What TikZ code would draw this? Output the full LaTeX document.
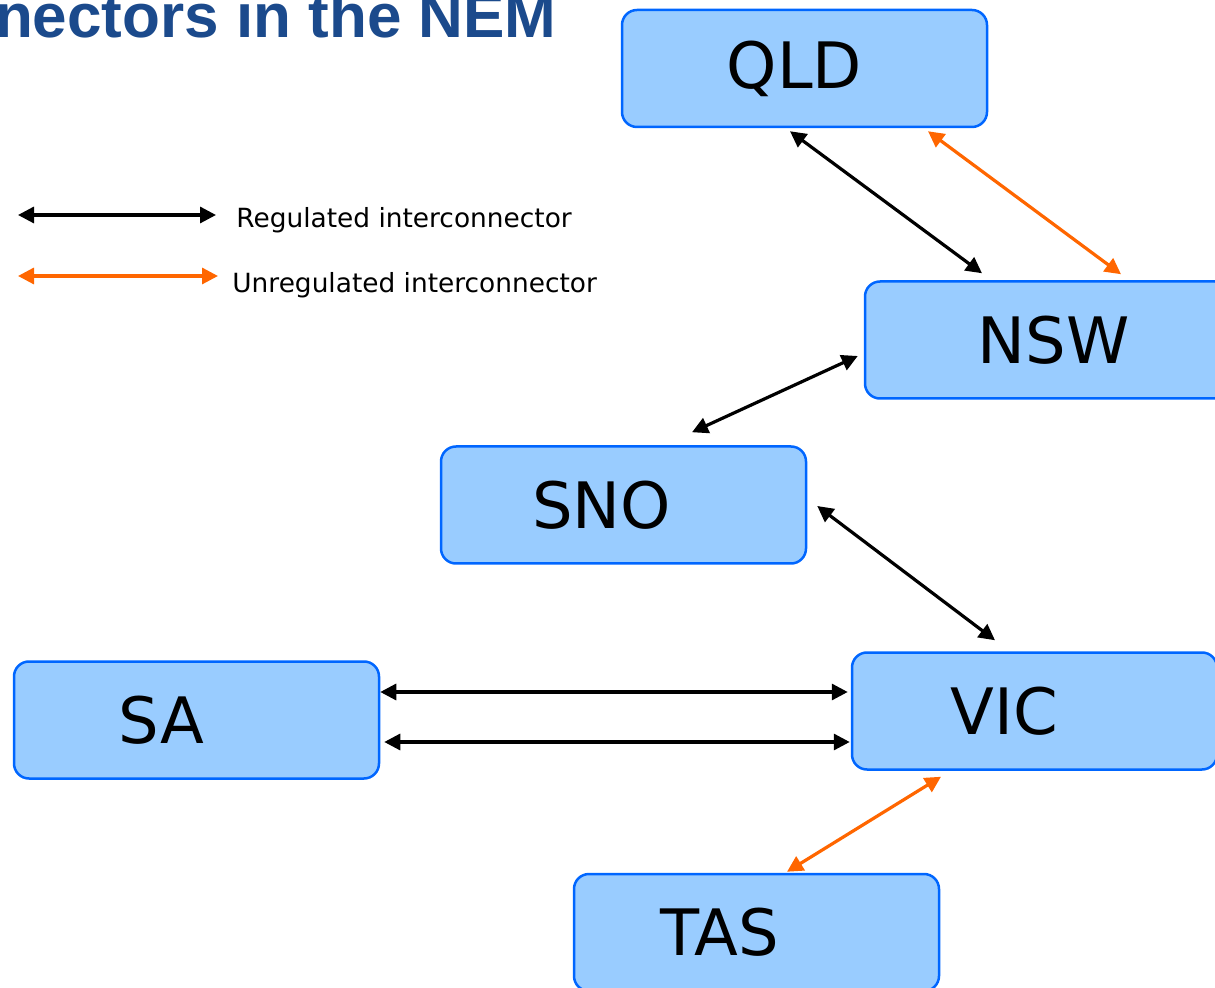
\documentclass[tikz,border=0pt]{standalone}
\usepackage{fontspec}
\setmainfont{DejaVu Sans}
\newfontfamily\titlefont{Liberation Sans}
\usetikzlibrary{arrows.meta,calc}
\definecolor{boxfill}{RGB}{153,204,255}
\definecolor{boxline}{RGB}{0,102,255}
\definecolor{orangeline}{RGB}{255,102,0}
\definecolor{titleblue}{RGB}{27,74,140}

\begin{document}
\begin{tikzpicture}[x=0.5pt,y=-0.5pt,
    region/.style={draw=boxline, fill=boxfill, line width=1.25pt, rounded corners=7.5pt,
      minimum width=182.5pt, minimum height=58.5pt, inner sep=0pt,
      font=\fontsize{32}{38}\selectfont},
    regline/.style={{Triangle[length=8pt,width=8pt]}-{Triangle[length=8pt,width=8pt]},
      line width=1.6pt, black},
    unregline/.style={regline, orangeline},
    keytext/.style={anchor=west, inner sep=0pt, font=\fontsize{13.2}{16}\selectfont}]
  \useasboundingbox (0,0) rectangle (1215,988);

  \node[anchor=base east, inner sep=0pt, text=titleblue,
    font=\titlefont\bfseries\fontsize{31}{36}\selectfont] (title) at (557,38) {nectors in the NEM};

  % regions
  \node[region] (qld) at (804.5,68.5) {QLD\hspace*{10pt}};
  \node[region] (nsw) at (1047.5,340) {\hspace*{6pt}NSW};
  \node[region] (sno) at (623.5,505) {SNO\hspace*{22pt}};
  \node[region] (sa) at (196.5,720) {SA\hspace*{35pt}};
  \node[region] (vic) at (1034.5,711) {VIC\hspace*{30pt}};
  \node[region] (tas) at (756.5,932.5) {TAS\hspace*{37pt}};

  % key
  \coordinate (regA) at (18,215);
  \coordinate (regB) at (216,215);
  \coordinate (unregA) at (18,276);
  \coordinate (unregB) at (218,276);
  \draw[regline] (regA) -- (regB);
  \draw[unregline] (unregA) -- (unregB);
  \node[keytext] (regtext) at (236,220) {Regulated interconnector};
  \node[keytext] (unregtext) at (232,285) {Unregulated interconnector};

  % interconnectors
  \draw[regline] ($(qld.south)+(-14.5,3)$) -- ($(nsw.north)+(-65.5,-7)$);
  \draw[unregline] ($(qld.south)+(123.5,3)$) -- ($(nsw.north)+(73.5,-6)$);
  \draw[regline] ($(nsw.west)+(-6,16)$) -- ($(sno.north)+(68.5,-13)$);
  \draw[regline] ($(sno.east)+(10,1)$) -- ($(vic.north)+(-39.5,-11)$);
  \draw[regline] ($(sa.east)+(0,-28)$) -- ($(vic.west)+(-3,-19)$);
  \draw[regline] ($(sa.east)+(4,22)$) -- ($(vic.west)+(-1,31)$);
  \draw[unregline] ($(vic.south)+(-93.5,6)$) -- ($(tas.north)+(30.5,-1)$);
\end{tikzpicture}
\end{document}
